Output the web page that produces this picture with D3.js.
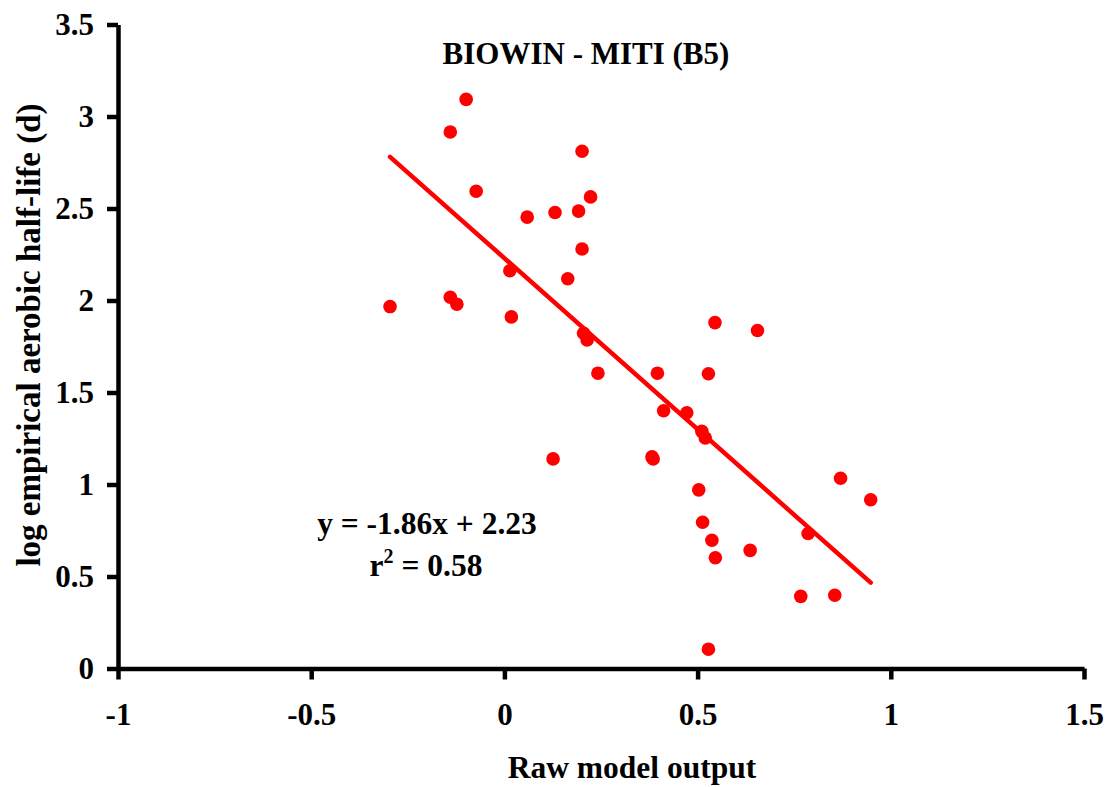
<!DOCTYPE html>
<html>
<head>
<meta charset="utf-8">
<script src="https://cdn.jsdelivr.net/npm/d3@7"></script>
<style>
  html, body { margin: 0; padding: 0; background: #fff; }
  svg { display: block; }
  text { font-family: "Liberation Serif", "Times New Roman", serif; font-weight: bold; fill: #000; }
</style>
</head>
<body>
<svg id="chart" width="1107" height="787"></svg>
<script>
// ---- data ----
const rawOutput = [-0.296, -0.140, -0.099, -0.073, -0.140, -0.123, 0.014, 0.018, 0.059, 0.131,
                   0.126, 0.164, 0.192, 0.201, 0.223, 0.201, 0.205, 0.214, 0.242, 0.396,
                   0.528, 0.545, 0.655, 0.412, 0.472, 0.511, 0.520, 0.382, 0.385, 0.870,
                   0.948, 0.503, 0.513, 0.786, 0.537, 0.636, 0.546, 0.528, 0.767, 0.855];
const logHalfLife = [1.967, 2.916, 3.093, 2.594, 2.018, 1.980, 2.162, 1.911, 2.453, 2.478,
                     1.139, 2.118, 2.486, 2.811, 2.563, 2.280, 1.822, 1.786, 1.605, 1.605,
                     1.602, 1.880, 1.837, 1.401, 1.390, 1.289, 1.253, 1.150, 1.139, 1.034,
                     0.917, 0.971, 0.795, 0.734, 0.697, 0.642, 0.602, 0.105, 0.392, 0.398];
const fitSlope = -1.86;
const fitIntercept = 2.23;
const xTicks = [-1, -0.5, 0, 0.5, 1, 1.5];
const yTicks = [0, 0.5, 1, 1.5, 2, 2.5, 3, 3.5];
const titleText = "BIOWIN - MITI (B5)";
const xLabel = "Raw model output";
const yLabel = "log empirical aerobic half-life (d)";

// ---- drawing ----
const svg = d3.select("#chart");
const x = d3.scaleLinear().domain([-1, 1.5]).range([118, 1084]);
const y = d3.scaleLinear().domain([0, 3.5]).range([668.5, 24.5]);

const fmt = d => String(d);

const gx = svg.append("g").attr("transform", `translate(0,${y(0)})`)
  .call(d3.axisBottom(x).tickValues(xTicks).tickFormat(fmt).tickSizeInner(11).tickSizeOuter(0).tickPadding(24));
const gy = svg.append("g").attr("transform", `translate(${x(-1)},0)`)
  .call(d3.axisLeft(y).tickValues(yTicks).tickFormat(fmt).tickSizeInner(11).tickSizeOuter(0).tickPadding(13));

[gx, gy].forEach(g => {
  g.select(".domain").attr("stroke", "#000").attr("stroke-width", 4.5);
  g.selectAll(".tick line").attr("stroke", "#000").attr("stroke-width", 4.5);
  g.selectAll(".tick text")
    .style("font-family", '"Liberation Serif", "Times New Roman", serif')
    .style("font-weight", "bold")
    .style("font-size", "31px")
    .attr("fill", "#000");
});
gx.selectAll(".tick text").attr("dy", "0.68em");

// trend line over data extent
const xr = d3.extent(rawOutput);
const line = d3.line().x(d => x(d)).y(d => y(fitSlope * d + fitIntercept));
svg.append("path")
  .attr("d", line(xr))
  .attr("stroke", "#ff0000")
  .attr("stroke-width", 4.5)
  .attr("stroke-linecap", "round")
  .attr("fill", "none");

// points
svg.append("g").selectAll("circle")
  .data(rawOutput.map((v, i) => [v, logHalfLife[i]]))
  .join("circle")
  .attr("cx", d => x(d[0]))
  .attr("cy", d => y(d[1]))
  .attr("r", 6.8)
  .attr("fill", "#ff0000");

// title
svg.append("text").attr("x", 586).attr("y", 64)
  .attr("text-anchor", "middle").style("font-size", "31px").text(titleText);

// equation
svg.append("text").attr("x", 427).attr("y", 534)
  .attr("text-anchor", "middle").style("font-size", "31.5px").text("y = -1.86x + 2.23");
const r2 = svg.append("text").attr("x", 426).attr("y", 576)
  .attr("text-anchor", "middle").style("font-size", "31.5px");
r2.append("tspan").text("r");
r2.append("tspan").attr("dy", -13).style("font-size", "20px").text("2");
r2.append("tspan").attr("dy", 13).text(" = 0.58");

// axis titles
svg.append("text").attr("x", 632).attr("y", 778)
  .attr("text-anchor", "middle").style("font-size", "31.5px").text(xLabel);
svg.append("text")
  .attr("transform", "translate(40,335) rotate(-90)")
  .attr("text-anchor", "middle").style("font-size", "33px").text(yLabel);
</script>
</body>
</html>
